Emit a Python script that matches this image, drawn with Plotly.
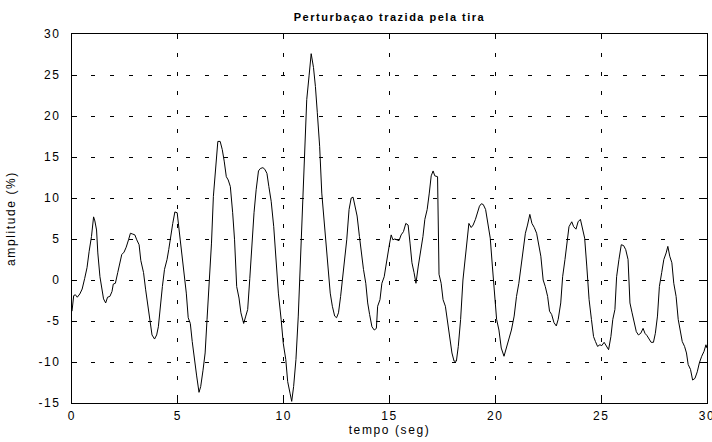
import plotly.graph_objects as go

# time (s) and amplitude (%)
tempo = [0.0, 0.08, 0.16, 0.25, 0.37, 0.48, 0.6, 0.71, 0.81, 0.92, 1.02, 1.08, 1.16, 1.22, 1.32, 1.43, 1.49, 1.59,
         1.68, 1.79, 1.89, 1.95, 2.05, 2.16, 2.27, 2.35, 2.46, 2.56, 2.67, 2.76, 2.87, 2.97, 3.06, 3.17, 3.25, 3.38,
         3.48, 3.57, 3.67, 3.78, 3.9, 4.0, 4.08, 4.17, 4.27, 4.37, 4.49, 4.57, 4.67, 4.76, 4.86, 4.97, 5.06, 5.17,
         5.29, 5.4, 5.49, 5.59, 5.68, 5.78, 5.89, 6.0, 6.08, 6.19, 6.29, 6.38, 6.48, 6.59, 6.68, 6.78, 6.89, 7.0,
         7.1, 7.19, 7.29, 7.38, 7.48, 7.59, 7.68, 7.78, 7.89, 7.98, 8.11, 8.21, 8.3, 8.4, 8.49, 8.6, 8.7, 8.81,
         8.9, 9.02, 9.11, 9.21, 9.3, 9.41, 9.53, 9.64, 9.75, 9.88, 9.98, 10.1, 10.19, 10.3, 10.38, 10.47, 10.58,
         10.69, 10.78, 10.89, 10.98, 11.09, 11.2, 11.3, 11.41, 11.5, 11.59, 11.7, 11.8, 11.91, 12.0, 12.09, 12.2,
         12.3, 12.41, 12.5, 12.59, 12.69, 12.8, 12.89, 12.98, 13.09, 13.19, 13.28, 13.38, 13.47, 13.58, 13.67,
         13.77, 13.88, 13.97, 14.06, 14.17, 14.28, 14.38, 14.44, 14.55, 14.64, 14.75, 14.83, 14.91, 15.0, 15.08,
         15.16, 15.25, 15.34, 15.45, 15.55, 15.66, 15.77, 15.88, 15.97, 16.06, 16.16, 16.25, 16.36, 16.47, 16.58,
         16.67, 16.78, 16.88, 16.97, 17.06, 17.14, 17.27, 17.34, 17.44, 17.53, 17.64, 17.73, 17.84, 17.95, 18.05,
         18.16, 18.25, 18.36, 18.47, 18.56, 18.66, 18.75, 18.86, 18.95, 19.06, 19.16, 19.25, 19.34, 19.43, 19.54,
         19.65, 19.76, 19.86, 19.97, 20.06, 20.17, 20.28, 20.41, 20.52, 20.63, 20.76, 20.89, 21.0, 21.11, 21.23,
         21.34, 21.42, 21.52, 21.63, 21.73, 21.84, 21.95, 22.04, 22.15, 22.26, 22.36, 22.47, 22.56, 22.66, 22.77,
         22.88, 22.97, 23.09, 23.18, 23.29, 23.39, 23.48, 23.61, 23.7, 23.81, 23.91, 24.02, 24.11, 24.22, 24.32,
         24.43, 24.54, 24.64, 24.73, 24.83, 24.94, 25.03, 25.14, 25.24, 25.35, 25.46, 25.55, 25.65, 25.73, 25.84,
         25.95, 26.06, 26.16, 26.27, 26.36, 26.46, 26.57, 26.66, 26.76, 26.87, 26.98, 27.07, 27.17, 27.26, 27.36,
         27.47, 27.56, 27.66, 27.75, 27.86, 27.96, 28.07, 28.15, 28.24, 28.34, 28.43, 28.54, 28.64, 28.73, 28.83,
         28.94, 29.03, 29.11, 29.22, 29.32, 29.43, 29.54, 29.64, 29.75, 29.86, 29.95, 30.0]
amplitude = [-3.8, -1.9, -1.8, -2.1, -1.7, -1.1, 0.2, 1.5, 3.5, 5.3, 7.7, 7.2, 6.1, 3.3, 0.4, -1.8, -2.3, -2.8,
             -2.1, -2.0, -1.4, -0.5, -0.4, 0.9, 2.1, 3.1, 3.4, 4.0, 4.9, 5.7, 5.6, 5.5, 4.9, 4.3, 2.4, 0.9,
             -1.2, -3.0, -5.0, -6.7, -7.2, -6.7, -5.7, -3.0, -0.8, 1.3, 2.5, 3.7, 5.7, 6.9, 8.3, 8.2, 6.1, 3.7,
             0.4, -1.6, -4.6, -5.3, -7.5, -9.7, -11.7, -13.7, -13.0, -11.0, -8.9, -4.8, -0.8, 4.5, 10.2, 13.0, 16.9, 16.9,
             15.9, 14.5, 12.6, 12.2, 11.4, 8.2, 4.9, -0.8, -2.2, -4.0, -5.3, -4.4, -3.6, 0.2, 4.1, 8.2, 11.0, 13.3,
             13.6, 13.7, 13.5, 13.0, 11.4, 9.6, 6.5, 2.5, -1.6, -4.8, -7.7, -9.7, -12.4, -13.8, -14.8, -13.0, -9.7,
             -4.4, 2.1, 9.8, 15.1, 22.0, 24.9, 27.6, 25.9, 23.6, 20.4, 16.3, 10.6, 7.4, 4.1, 1.9, -1.6,
             -3.2, -4.4, -4.6, -4.0, -2.0, 0.4, 2.5, 4.9, 8.6, 10.0, 10.1, 8.8, 7.8, 5.3, 3.3,
             1.3, -0.4, -2.8, -4.2, -5.7, -6.1, -5.9, -3.2, -2.4, -0.4, 0.4, 1.7, 3.3, 4.4, 5.5,
             4.9, 5.0, 4.9, 4.8, 5.5, 5.9, 6.9, 6.7, 4.5, 2.1, 0.9, -0.4, 1.7, 3.3, 5.3,
             7.4, 8.6, 10.6, 12.7, 13.3, 12.7, 12.6, 0.7, -0.4, -2.4, -3.2, -4.8, -7.3, -8.9, -9.9,
             -9.9, -8.1, -4.8, 0.0, 2.5, 5.3, 6.9, 6.4, 6.7, 7.4, 8.2, 9.0, 9.3, 9.2, 8.6,
             6.6, 5.1, 1.7, -1.6, -4.8, -6.1, -8.3, -9.3, -8.3, -7.5, -6.1, -4.4, -2.0, -0.4, 2.1,
             3.7, 5.7, 6.7, 8.0, 6.9, 6.4, 5.7, 4.5, 2.9, 0.0, -0.8, -2.0, -3.8, -4.2, -5.2,
             -5.6, -4.8, -2.8, 0.4, 2.5, 4.9, 6.5, 7.1, 6.5, 6.2, 7.1, 7.4, 6.5, 5.1, 1.7,
             -2.4, -4.8, -6.9, -7.5, -8.1, -7.9, -8.0, -7.6, -8.1, -8.5, -6.9, -4.8, -3.6, 0.4, 2.5,
             4.3, 4.2, 3.7, 2.5, -2.8, -4.0, -5.2, -6.3, -6.7, -6.5, -5.9, -6.5, -6.8, -7.2, -7.6,
             -7.6, -6.5, -4.4, -0.8, 0.9, 2.5, 3.3, 4.1, 2.9, 2.1, -0.4, -2.0, -4.8, -6.1, -7.5,
             -8.1, -8.9, -10.3, -10.9, -12.2, -12.0, -11.2, -10.1, -9.3, -8.7, -7.9, -8.3]

x_ticks = [0, 5, 10, 15, 20, 25, 30]
y_ticks = [-15, -10, -5, 0, 5, 10, 15, 20, 25, 30]

SP = '<span style="letter-spacing:1.6px">{}</span>'
x_ticktext = [SP.format(v) for v in x_ticks]
y_ticktext = [SP.format(v) for v in y_ticks]

title_text = "Perturbaçao trazida pela tira"
x_title = "tempo (seg)"
y_title = "amplitude (%)"

FONT = "Liberation Sans, Arial, sans-serif"

fig = go.Figure()
fig.add_trace(go.Scatter(x=tempo, y=amplitude, mode="lines",
                         line=dict(color="black", width=1), showlegend=False,
                         hoverinfo="skip"))

axis_common = dict(
    showline=True, linecolor="black", linewidth=1, mirror="ticks",
    ticks="inside", ticklen=5, tickcolor="black", tickwidth=1,
    showgrid=True, gridcolor="black", gridwidth=1, griddash="4px,15px",
    zeroline=False, tickfont=dict(family=FONT, size=12, color="black"),
    automargin=False, ticklabeloverflow="allow",
)

fig.update_xaxes(range=[0, 30], tickvals=x_ticks, ticktext=x_ticktext,
                 ticklabelstandoff=2,
                 title=dict(text=SP.format(x_title), font=dict(family=FONT, size=12, color="black"), standoff=0),
                 **axis_common)
fig.update_yaxes(range=[-15, 30], tickvals=y_ticks, ticktext=y_ticktext,
                 ticklabelstandoff=8,
                 title=dict(text=SP.format(y_title), font=dict(family=FONT, size=12, color="black"), standoff=20),
                 **axis_common)

fig.update_layout(
    width=712, height=442,
    margin=dict(l=72, r=5, t=34, b=39, autoexpand=False),
    paper_bgcolor="white", plot_bgcolor="white",
    title=dict(text='<b><span style="letter-spacing:1.5px">' + title_text + '</span></b>',
               x=0.5, xref="paper", xanchor="center",
               y=1 - 17 / 442, yref="container", yanchor="middle",
               font=dict(family=FONT, size=11, color="black")),
)

fig.write_html("out.html", config={"displayModeBar": False},
               post_script="document.body.style.margin='0';document.body.style.overflow='hidden';")
